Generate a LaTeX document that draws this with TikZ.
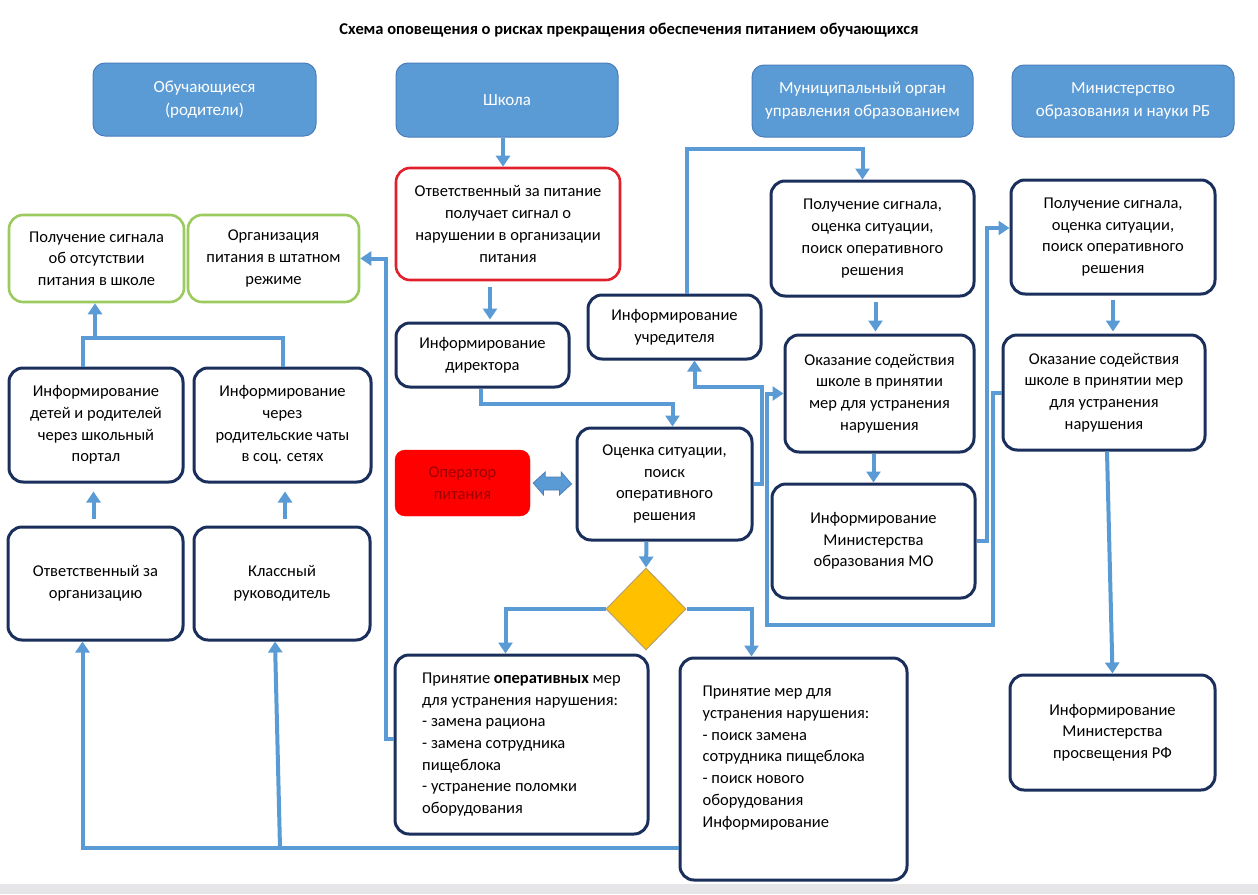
\documentclass[tikz,border=0pt]{standalone}
\usepackage{fontspec}
\setmainfont{Carlito}
\usetikzlibrary{shapes.geometric,arrows.meta,calc}
\definecolor{cblue}{HTML}{5B9BD5}
\definecolor{hdr}{HTML}{5B9BD5}
\definecolor{hdrb}{HTML}{4A7EBB}
\definecolor{navy}{HTML}{1B2F5C}
\definecolor{grn}{HTML}{9BCB5F}
\definecolor{rd}{HTML}{E0212B}
\definecolor{oprd}{HTML}{FF0000}
\definecolor{optx}{HTML}{9A0000}
\definecolor{gold}{HTML}{FFC000}
\definecolor{goldb}{HTML}{B8A070}
\definecolor{band}{HTML}{E6E6E8}
\newcommand\mybox[7]{\node[#1, minimum width={(#5)-(#3)}, minimum height={(#6)-(#4)}] (#2) at ({((#3)+(#5))/2},{((#4)+(#6))/2}) {#7};}
\tikzset{
  base/.style={rounded corners=14pt, inner sep=0pt, align=center, font=\fontsize{16.5}{21.7}\selectfont, text=black},
  nbox/.style={base, draw=navy, line width=3pt, fill=white},
  gbox/.style={base, draw=grn, line width=2.6pt, fill=white},
  rbox/.style={base, draw=rd, line width=2.6pt, fill=white},
  hbox/.style={base, fill=hdr, draw=hdrb, line width=1pt, text=white, rounded corners=12pt, font=\fontsize{17}{23}\selectfont},
  obox/.style={base, fill=oprd, draw=oprd, text=optx, rounded corners=10pt},
  conn/.style={draw=cblue, line width=4pt},
  arr/.style={conn, -{Triangle[width=14pt,length=11pt]}}
}
\begin{document}
\begin{tikzpicture}[x=1pt,y=-1pt]
\useasboundingbox (0,0) rectangle (1258,894);
\fill[white] (0,0) rectangle (1258,894);
\fill[band] (0,884) rectangle (1258,894);

\node[font=\bfseries\fontsize{16.5}{19}\selectfont] (title) at (629,30) {Схема оповещения о рисках прекращения обеспечения питанием обучающихся};

% headers
\mybox{hbox}{h1}{93}{63}{316}{136}{Обучающиеся\\(родители)}
\mybox{hbox}{school}{396}{63}{618}{137}{Школа}
\mybox{hbox}{h3}{752}{65}{973}{137}{Муниципальный орган\\управления образованием}
\mybox{hbox}{h4}{1012}{65}{1234}{137}{Министерство\\образования и науки РБ}

% left column
\mybox{gbox}{g1}{9}{215}{184}{302}{Получение сигнала\\об отсутствии\\питания в школе}
\mybox{gbox}{g2}{188}{215}{359}{302}{Организация\\питания в штатном\\режиме}
\mybox{nbox}{i1}{9}{368}{183}{482}{Информирование\\детей и родителей\\через школьный\\портал}
\mybox{nbox}{i2}{194}{368}{371}{482}{Информирование\\через\\родительские чаты\\в соц. сетях}
\mybox{nbox}{r1}{8}{527}{183}{640}{Ответственный за\\организацию}
\mybox{nbox}{r2}{194}{527}{370}{640}{Классный\\руководитель}

% school column
\mybox{rbox}{red}{396}{168}{620}{280}{Ответственный за питание\\получает сигнал о\\нарушении в организации\\питания}
\mybox{nbox}{dir}{396}{323}{569}{387}{Информирование\\директора}
\mybox{obox}{op}{395}{450}{530}{516}{Оператор\\питания}
\mybox{nbox}{oc}{577}{428}{752}{540}{Оценка ситуации,\\поиск\\оперативного\\решения}
\mybox{nbox}{uch}{588}{295}{761}{359}{Информирование\\учредителя}
\node[diamond, draw=goldb, fill=gold, line width=1pt, minimum width=80pt, minimum height=82pt, inner sep=0pt] (dia) at (646,609) {};
\mybox{nbox, align=left}{pA}{395}{655}{648}{834}{Принятие \textbf{оперативных} мер\\для устранения нарушения:\\- замена рациона\\- замена сотрудника\\пищеблока\\- устранение поломки\\оборудования}
\mybox{nbox}{pB}{680}{658}{907}{880}{}
\node[base, align=left] (pBt) at (786,758) {Принятие мер для\\устранения нарушения:\\- поиск замена\\сотрудника пищеблока\\- поиск нового\\оборудования\\Информирование};

% municipal column
\mybox{nbox}{m1}{771}{181}{974}{296}{Получение сигнала,\\оценка ситуации,\\поиск оперативного\\решения}
\mybox{nbox}{m2}{785}{335}{974}{452}{Оказание содействия\\школе в принятии\\мер для устранения\\нарушения}
\mybox{nbox}{m3}{772}{484}{975}{598}{Информирование\\Министерства\\образования МО}

% ministry column
\mybox{nbox}{b1}{1011}{180}{1215}{294}{Получение сигнала,\\оценка ситуации,\\поиск оперативного\\решения}
\mybox{nbox}{b2}{1003}{335}{1205}{450}{Оказание содействия\\школе в принятии мер\\для устранения\\нарушения}
\mybox{nbox}{b3}{1010}{675}{1215}{790}{Информирование\\Министерства\\просвещения РФ}

% double arrow operator <-> assessment
\filldraw[fill=cblue, draw=hdrb, line width=0.8pt]
  ($(op.east)+(3,0)$) -- ++(12,-11) -- ++(0,5) -- ++(16,0) -- ++(0,-5) -- ($(oc.west)+(-4,0)$)
  -- ++(-12,11) -- ++(0,-5) -- ++(-16,0) -- ++(0,5) -- cycle;

% connectors
\draw[arr] ([xshift=-4pt]school.south) -- ([xshift=-4pt]school.south |- red.north);
\draw[arr, shorten <=6pt, shorten >=2pt] ([xshift=-18pt]red.south) -- ([xshift=-18pt]red.south |- dir.north);
\draw[arr] ([xshift=-2pt]dir.south) -- ++(0,15) -| ([xshift=8pt]oc.north);
\draw[arr] (oc.east) -- ++(8,0) -- ++(0,-97) -| ([xshift=20pt]uch.south);
\draw[arr] ([xshift=12pt]uch.north) -- ++(0,-145) -| ([xshift=-10pt]m1.north);
\draw[arr] ([xshift=-18pt]oc.south) -- (dia.north);
\draw[arr] (dia.west) -| ([xshift=-16pt]pA.north);
\draw[arr] (dia.east) -| ([xshift=-42pt]pB.north);
\draw[arr, shorten <=4pt, shorten >=2pt] ([xshift=3pt]m1.south) -- ([xshift=3pt]m1.south |- m2.north);
\draw[arr] (m2.south -| m3.north) -- (m3.north);
\draw[arr] (m3.east) -- ++(10,0) |- ([yshift=9pt]b1.west);
\draw[arr] (b2.west) -- ++(-9,0) |- (767,625) |- (m2.west);
\draw[arr, shorten <=4pt, shorten >=2pt] (b1.south) -- (b1.south |- b2.north);
\draw[arr] ([xshift=3pt]b2.south) -- (b3.north);
\draw[arr] ([yshift=6pt]pA.west) -- ++(-8,0) |- (g2.east);
\coordinate (jb) at (280,848);
\draw[arr] ([yshift=-79pt]pB.west) -| ([xshift=-13pt]r1.south);
\draw[arr] (jb) -- ([xshift=-7pt]r2.south);
\draw[arr, shorten <=7pt, shorten >=8pt] ([xshift=-2pt]r1.north) -- ([xshift=-2pt]r1.north |- i1.south);
\draw[arr, shorten <=7pt, shorten >=8pt] ([xshift=3pt]r2.north) -- ([xshift=3pt]r2.north |- i2.south);
\coordinate (jt) at (95,338);
\draw[conn] ([xshift=-13pt]i1.north) |- (jt) -| (i2.north);
\draw[arr] (jt) -- (jt |- g1.south);
\end{tikzpicture}
\end{document}
